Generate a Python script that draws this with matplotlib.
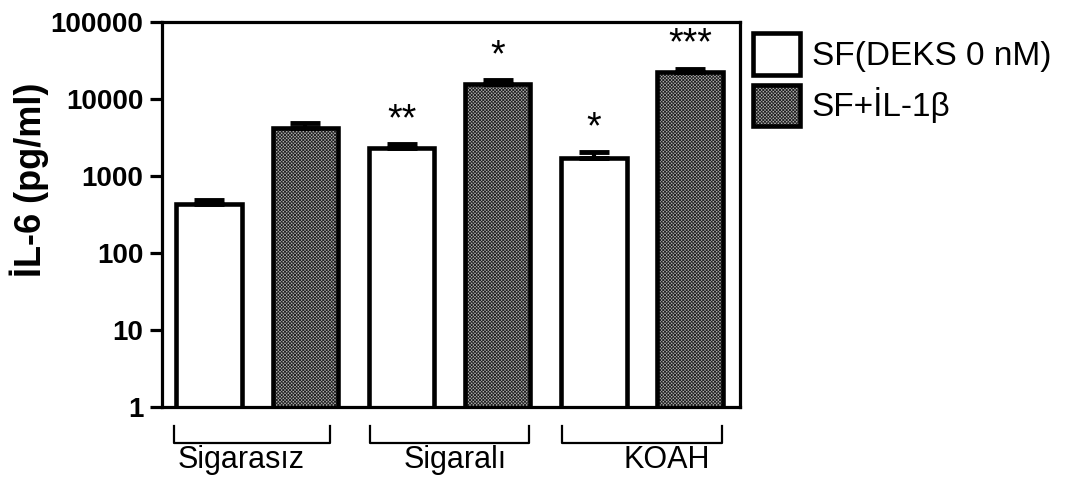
import matplotlib
matplotlib.use("Agg")
import matplotlib.pyplot as plt
from matplotlib.patches import Patch
import numpy as np

plt.rcParams['font.family'] = ['Liberation Sans', 'DejaVu Sans']
plt.rcParams['hatch.linewidth'] = 0.6

# data (pg/ml, log axis)
groups = ['Sigarasız', 'Sigaralı', 'KOAH']
series = ['SF(DEKS 0 nM)', 'SF+İL-1β']
base_vals = [433, 2310, 1710]
base_err = [50, 260, 310]
il1b_vals = [4190, 15700, 22400]
il1b_err = [760, 1700, 2500]
base_stars = ['', '**', '*']
il1b_stars = ['', '*', '***']
yticks = [1, 10, 100, 1000, 10000, 100000]

fig = plt.figure(figsize=(10.78, 4.83), dpi=100)
ax = fig.add_axes([0.1503, 0.1574, 0.5362, 0.797])

width = 0.68
lw_bar = 3.3
hatch_kw = dict(facecolor='#b0b0b0', edgecolor='#222222', hatch='x' * 10, linewidth=0)

for g in range(len(groups)):
    x0 = 2 * g
    x1 = 2 * g + 1
    # white bar
    ax.bar(x0, base_vals[g], width, facecolor='white', edgecolor='black',
           linewidth=lw_bar, zorder=2)
    # hatched bar: texture first, then black outline
    ax.bar(x1, il1b_vals[g], width, zorder=2, **hatch_kw)
    ax.bar(x1, il1b_vals[g], width, fill=False, edgecolor='black',
           linewidth=lw_bar, zorder=3)
    for x, v, e, s in [(x0, base_vals[g], base_err[g], base_stars[g]),
                       (x1, il1b_vals[g], il1b_err[g], il1b_stars[g])]:
        ax.errorbar(x, v, yerr=[[0], [e]], fmt='none', ecolor='black',
                    elinewidth=3, capsize=11, capthick=3.5, zorder=4)
        if s:
            ax.annotate(s, (x, v + e), xytext=(0, 10), textcoords='offset points',
                        ha='center', va='baseline', fontsize=27, zorder=5)

ax.set_yscale('log')
ax.set_ylim(1, 100000)
ax.set_xlim(-0.49, 5.52)
ax.set_yticks(yticks)
ax.set_yticklabels([str(t) for t in yticks], fontsize=20, fontweight='bold')
ax.yaxis.set_minor_locator(matplotlib.ticker.NullLocator())
ax.set_xticks([])
ax.tick_params(axis='y', direction='out', length=8.5, width=2.3, pad=5)
for sp in ax.spines.values():
    sp.set_linewidth(2.3)

ax.set_ylabel('İL-6 (pg/ml)', fontsize=26, fontweight='bold')
ax.yaxis.set_label_coords(-0.195, 0.59)

# group brackets under the axis
trans = matplotlib.transforms.blended_transform_factory(ax.transData, ax.transAxes)
label_x = [0.33, 2.56, 4.76]
for g, name in enumerate(groups):
    left = 2 * g - 0.33
    right = 2 * g + 1.33
    if g == 0:
        left, right = -0.37, 1.26
    ax.plot([left, left, right, right], [-0.049, -0.094, -0.094, -0.049],
            color='black', lw=1.6, transform=trans, clip_on=False)
    ax.text(label_x[g], -0.138, name, transform=trans, ha='center', va='center',
            fontsize=22)

handles = [Patch(facecolor='white', edgecolor='black', linewidth=lw_bar),
           (Patch(**hatch_kw), Patch(fill=False, edgecolor='black', linewidth=lw_bar))]
fig.legend(handles, series, loc='upper left', bbox_to_anchor=(0.671, 0.994),
           frameon=False, fontsize=24, handlelength=1.4, handleheight=1.55,
           handletextpad=0.35, labelspacing=0.3)

fig.savefig('out.png', dpi=100)
